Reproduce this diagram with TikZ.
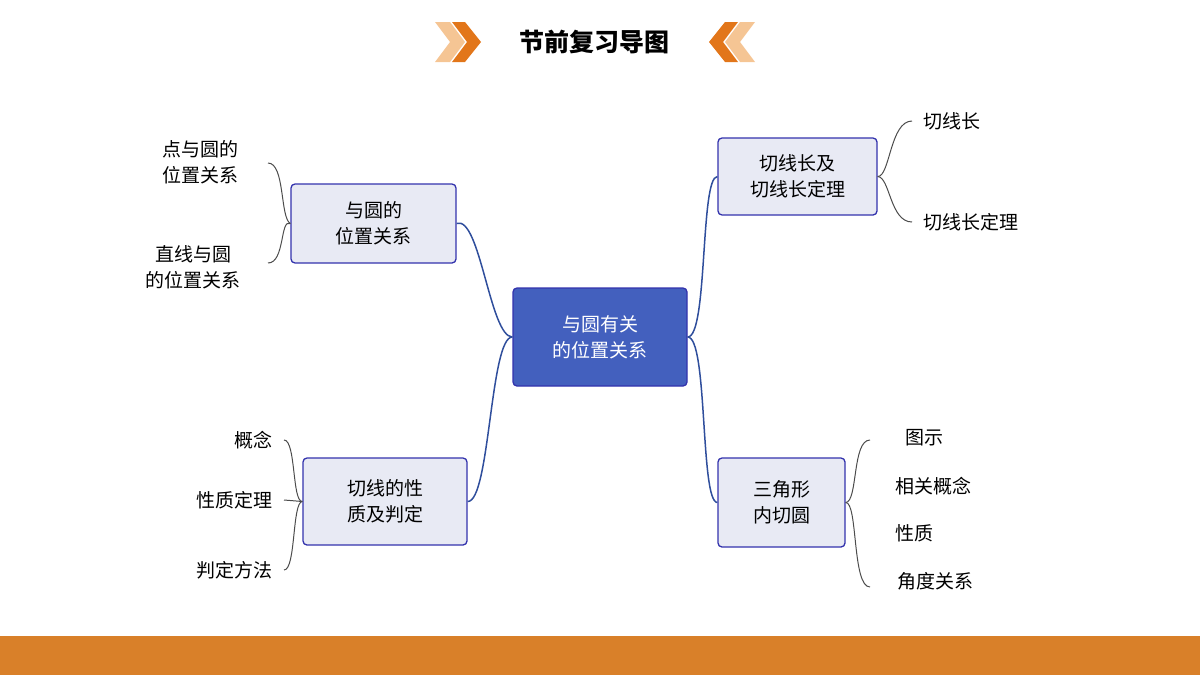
\documentclass[tikz,border=0pt]{standalone}
\usepackage{fontspec}
\newfontfamily\cjk{Noto Sans CJK SC}
\begin{document}
\begin{tikzpicture}[x=1pt,y=-1pt,
 box/.style={draw=blue!60!black!80,line width=1.3pt,fill=boxfill,rounded corners=4pt,align=center,font=\cjk\fontsize{19}{26}\selectfont},
 leaf/.style={font=\cjk\fontsize{19}{26}\selectfont,align=center,inner sep=0pt},
 conn/.style={draw=linkblue,line width=1.5pt},
 br/.style={draw=gray!60!black,line width=1pt}]
\definecolor{boxfill}{HTML}{E8EAF4}
\definecolor{linkblue}{HTML}{2F4E9C}
\definecolor{mainfill}{HTML}{4360BE}
\definecolor{orng}{HTML}{D98029}
\definecolor{lorng}{HTML}{F5C594}
\definecolor{dorng}{HTML}{E2761A}
\useasboundingbox (0,0) rectangle (1200,675);
\fill[orng] (0,636) rectangle (1200,675);
% title
\fill[lorng] (435,22)--(450,22)--(465,42)--(450,62)--(435,62)--(450,42)--cycle;
\fill[dorng] (452,22)--(465,22)--(481,42)--(465,62)--(452,62)--(467,42)--cycle;
\fill[lorng] (755,22)--(740,22)--(725,42)--(740,62)--(755,62)--(740,42)--cycle;
\fill[dorng] (738,22)--(725,22)--(709,42)--(725,62)--(738,62)--(723,42)--cycle;
\node[font=\cjk\bfseries\fontsize{25}{30}\selectfont] (title) at (594,42) {节前复习导图};
% nodes
\node[box,fill=mainfill,text=white,minimum width=174pt,minimum height=98pt] (c) at (600,337) {与圆有关\\的位置关系};
\node[box,minimum width=165pt,minimum height=79pt] (b1) at (373.5,223.5) {与圆的\\位置关系};
\node[box,minimum width=159pt,minimum height=77pt] (b2) at (797.5,176.5) {切线长及\\切线长定理};
\node[box,minimum width=164pt,minimum height=87pt] (b3) at (385,501.5) {切线的性\\质及判定};
\node[box,minimum width=127pt,minimum height=89pt] (b4) at (781.5,502.5) {三角形\\内切圆};
\draw[conn] (c.west) .. controls (490,337) and (480,215) .. (b1.east);
\draw[conn] (c.west) .. controls (490,337) and (490,502) .. (b3.east);
\draw[conn] (c.east) .. controls (708,337) and (700,177) .. (b2.west);
\draw[conn] (c.east) .. controls (708,337) and (700,502) .. (b4.west);
% leaves
\node[leaf] (l1) at (200,162) {点与圆的\\位置关系};
\node[leaf] (l2) at (193,267) {直线与圆\\的位置关系};
\coordinate (p1) at (268,163); \coordinate (p2) at (268,263);
\draw[br] (b1.west) .. controls (280,218) and (285,163) .. (p1);
\draw[br] (b1.west) .. controls (280,218) and (285,263) .. (p2);
\node[leaf,anchor=west] (r1) at (923,121) {切线长};
\node[leaf,anchor=west] (r2) at (923,222) {切线长定理};
\coordinate (q1) at (912,121); \coordinate (q2) at (912,222);
\draw[br] (b2.east) .. controls (890,177) and (890,121) .. (q1);
\draw[br] (b2.east) .. controls (890,177) and (890,222) .. (q2);
\node[leaf,anchor=east] (s1) at (273,440) {概念};
\node[leaf,anchor=east] (s2) at (273,500) {性质定理};
\node[leaf,anchor=east] (s3) at (273,570) {判定方法};
\coordinate (t1) at (284,440); \coordinate (t2) at (284,500); \coordinate (t3) at (284,570);
\draw[br] (b3.west) .. controls (292,502) and (296,440) .. (t1);
\draw[br] (b3.west) -- (t2);
\draw[br] (b3.west) .. controls (292,502) and (296,570) .. (t3);
\node[leaf,anchor=west] (u1) at (905,438) {图示};
\node[leaf,anchor=west] (u2) at (895,486) {相关概念};
\node[leaf,anchor=west] (u3) at (895,533) {性质};
\node[leaf,anchor=west] (u4) at (897,581) {角度关系};
\coordinate (v1) at (870,440); \coordinate (v2) at (870,587);
\draw[br] (b4.east) .. controls (858,502) and (852,440) .. (v1);
\draw[br] (b4.east) .. controls (858,502) and (852,587) .. (v2);
\end{tikzpicture}
\end{document}
